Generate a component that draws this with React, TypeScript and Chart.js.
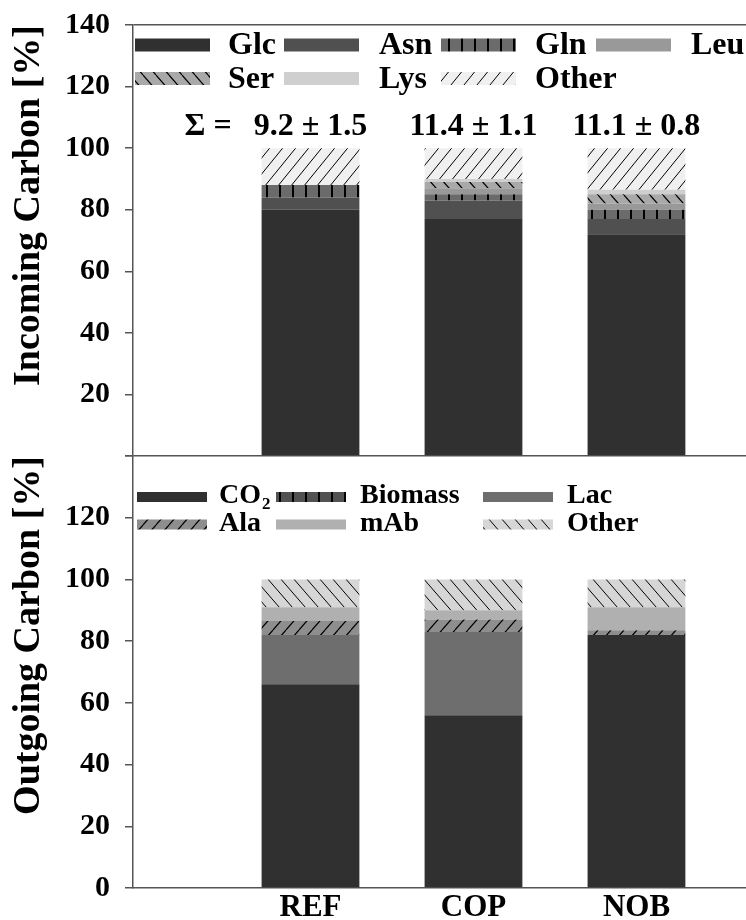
import React, { useEffect, useRef } from "react";
import { Chart, registerables } from "chart.js";

Chart.register(...registerables);

// ---------- data ----------
const categories = ["REF", "COP", "NOB"];

// Incoming carbon [%]
const inLabels = ["Glc", "Asn", "Gln", "Leu", "Ser", "Lys", "Other"];
const inGlc = [80, 77, 72];
const inAsn = [4, 6, 5];
const inGln = [4, 2, 3];
const inLeu = [0, 2, 2];
const inSer = [0, 2, 3];
const inLys = [0, 1, 1.5];
const inOther = [12, 10, 13.5];
const sumPrefix = "Σ =";
const sumLabels = ["9.2 ± 1.5", "11.4 ± 1.1", "11.1 ± 0.8"];

// Outgoing carbon [%]
const outLabels = ["CO₂", "Biomass", "Lac", "Ala", "mAb", "Other"];
const outCO2 = [66, 56, 82];
const outBiomass = [0, 0, 0];
const outLac = [16, 27, 0];
const outAla = [4.5, 4, 1.5];
const outMAb = [4.5, 3, 7.5];
const outOther = [9, 10, 9];

const yMin = 0;
const yMax = 140;
const yStep = 20;

// ---------- styling ----------
const FONT = "'Liberation Serif', 'Times New Roman', serif";
const AXIS = "#555555";

function makePattern(bg: string, kind: "v" | "f" | "b", w = 13, h = 15, lw = 1.2) {
  const c = document.createElement("canvas");
  c.width = w;
  c.height = h;
  const g = c.getContext("2d")!;
  g.fillStyle = bg;
  g.fillRect(0, 0, w, h);
  g.strokeStyle = "#000";
  g.lineWidth = lw;
  g.beginPath();
  if (kind === "v") {
    g.moveTo(7, 0);
    g.lineTo(7, h);
  } else if (kind === "f") {
    for (const dx of [-w, 0, w]) {
      g.moveTo(dx, h);
      g.lineTo(dx + w, 0);
    }
  } else {
    for (const dx of [-w, 0, w]) {
      g.moveTo(dx, 0);
      g.lineTo(dx + w, h);
    }
  }
  g.stroke();
  return g.createPattern(c, "repeat")!;
}

function drawLabel(ctx: CanvasRenderingContext2D, text: string, x: number, y: number, size: number) {
  const idx = text.indexOf("₂");
  if (idx < 0) {
    ctx.fillText(text, x, y);
    return;
  }
  const base = text.slice(0, idx);
  ctx.fillText(base, x, y);
  const w = ctx.measureText(base).width;
  const saved = ctx.font;
  ctx.font = `bold ${Math.round(size * 0.62)}px ${FONT}`;
  ctx.fillText("2", x + w + 1, y + size * 0.32);
  ctx.font = saved;
}

const boxLegend = {
  id: "boxLegend",
  afterDraw(chart: any, _a: any, o: any) {
    if (!o || !o.cols) return;
    const ctx = chart.ctx as CanvasRenderingContext2D;
    chart.data.datasets.forEach((ds: any, i: number) => {
      const r = Math.floor(i / o.perRow);
      const c = i % o.perRow;
      const x = o.cols[c];
      const y = o.rows[r];
      ctx.save();
      ctx.fillStyle = ds.backgroundColor;
      ctx.fillRect(x, y - o.boxH / 2, o.boxW, o.boxH);
      ctx.fillStyle = "#000";
      ctx.font = `bold ${o.size}px ${FONT}`;
      ctx.textBaseline = "middle";
      ctx.textAlign = "left";
      drawLabel(ctx, ds.label, o.textX[c], y + (o.textDy || 0), o.size);
      ctx.restore();
    });
  },
};

const sumPlugin = {
  id: "sumLabels",
  afterDatasetsDraw(chart: any, _a: any, o: any) {
    if (!o || !o.labels) return;
    const ctx = chart.ctx as CanvasRenderingContext2D;
    const xs = chart.scales.x;
    const ys = chart.scales.y;
    const py = ys.getPixelForValue(o.value);
    ctx.save();
    ctx.font = `bold ${o.size}px ${FONT}`;
    ctx.fillStyle = "#000";
    ctx.textBaseline = "middle";
    ctx.textAlign = "center";
    o.labels.forEach((t: string, i: number) => ctx.fillText(t, xs.getPixelForValue(i + 1), py));
    const left = xs.getPixelForValue(1) - ctx.measureText(o.labels[0]).width / 2 - o.gap;
    ctx.textAlign = "right";
    ctx.fillText(o.prefix, left, py);
    ctx.restore();
  },
};

function yScale(title: string, hidden: number[]) {
  return {
    stacked: true,
    min: yMin,
    max: yMax,
    ticks: {
      stepSize: yStep,
      color: "#000",
      padding: 15,
      font: { family: FONT, size: 30, weight: "bold" },
      callback: (v: any) => (hidden.includes(Number(v)) ? "" : String(v)),
    },
    grid: {
      drawOnChartArea: true,
      color: (c: any) => (c.tick && c.tick.value === yMax ? AXIS : "rgba(0,0,0,0)"),
      tickColor: AXIS,
      tickLength: 8,
      lineWidth: 1.5,
    },
    border: { display: true, color: AXIS, width: 1.5 },
    title: {
      display: true,
      text: title,
      align: "end",
      color: "#000",
      font: { family: FONT, size: 38, weight: "bold" },
      padding: { top: 6, bottom: 0 },
    },
    afterFit: (s: any) => {
      s.width = 133;
      s.paddingTop = 0;
      s.paddingBottom = 0;
    },
  };
}

function xScale(show: boolean) {
  return {
    type: "linear",
    stacked: true,
    offset: false,
    display: show,
    min: -0.089,
    max: 3.672,
    afterBuildTicks: (s: any) => {
      s.ticks = categories.map((_, i) => ({ value: i + 1 }));
    },
    ticks: {
      autoSkip: false,
      maxRotation: 0,
      color: "#000",
      padding: 1,
      font: { family: FONT, size: 31, weight: "bold" },
      callback: (v: any) => categories[Number(v) - 1] ?? "",
    },
    grid: { display: false, drawTicks: false, offset: false },
    border: { display: true, color: AXIS, width: 1.5 },
    afterFit: (s: any) => {
      s.height = show ? 32 : 0;
    },
  };
}

function toPoints(vals: number[]) {
  return vals.map((v, i) => ({ x: i + 1, y: v }));
}

export default function App() {
  const topRef = useRef<HTMLCanvasElement>(null);
  const botRef = useRef<HTMLCanvasElement>(null);

  useEffect(() => {
    const inFills: any[] = [
      "#303030",
      "#505050",
      makePattern("#6b6b6b", "v", 13, 4, 2),
      "#999999",
      makePattern("#a9a9a9", "b"),
      "#cfcfcf",
      makePattern("#f0f0f0", "f", 13, 16, 1),
    ];
    const outFills: any[] = [
      "#303030",
      makePattern("#525252", "v", 13, 4, 2),
      "#6e6e6e",
      makePattern("#8e8e8e", "f"),
      "#b0b0b0",
      makePattern("#d6d6d6", "b", 13, 15, 1),
    ];
    const inData = [inGlc, inAsn, inGln, inLeu, inSer, inLys, inOther];
    const outData = [outCO2, outBiomass, outLac, outAla, outMAb, outOther];

    const common = {
      responsive: false,
      animation: false,
      devicePixelRatio: 1,
      datasets: { bar: { categoryPercentage: 0.6, barPercentage: 1, borderWidth: 0 } },
    };

    const top = new Chart(topRef.current!, {
      type: "bar",
      data: {
        datasets: inLabels.map((label, k) => ({
          label,
          data: toPoints(inData[k]),
          backgroundColor: inFills[k],
        })),
      },
      plugins: [boxLegend, sumPlugin],
      options: {
        ...common,
        layout: { padding: { left: 0, right: 0, top: 25, bottom: 464 } },
        scales: { x: xScale(false), y: yScale("Incoming Carbon [%]", [0]) },
        plugins: {
          legend: { display: false },
          tooltip: { enabled: false },
          boxLegend: {
            perRow: 4,
            cols: [135, 284, 441, 596],
            textX: [228, 379, 535, 691],
            rows: [45, 78.5],
            boxW: 75,
            boxH: 13,
            size: 32,
            textDy: 1,
          },
          sumLabels: { labels: sumLabels, prefix: sumPrefix, value: 106.8, size: 32, gap: 22 },
        },
      } as any,
    } as any);

    const bot = new Chart(botRef.current!, {
      type: "bar",
      data: {
        datasets: outLabels.map((label, k) => ({
          label,
          data: toPoints(outData[k]),
          backgroundColor: outFills[k],
        })),
      },
      plugins: [boxLegend],
      options: {
        ...common,
        layout: { padding: { left: 0, right: 0, top: 456, bottom: 0 } },
        scales: { x: xScale(true), y: yScale("Outgoing Carbon [%]", [140]) },
        plugins: {
          legend: { display: false },
          tooltip: { enabled: false },
          boxLegend: {
            perRow: 3,
            cols: [137, 276, 483],
            textX: [219, 360, 567],
            rows: [497, 524.5],
            boxW: 70,
            boxH: 10,
            size: 28,
            textDy: -1,
          },
        },
      } as any,
    } as any);

    return () => {
      top.destroy();
      bot.destroy();
    };
  }, []);

  return (
    <div style={{ position: "absolute", left: 0, top: 0, width: 746, height: 920, background: "#fff" }}>
      <canvas ref={botRef} width={746} height={920} style={{ position: "absolute", left: 0, top: 0 }} />
      <canvas ref={topRef} width={746} height={920} style={{ position: "absolute", left: 0, top: 0 }} />
    </div>
  );
}
